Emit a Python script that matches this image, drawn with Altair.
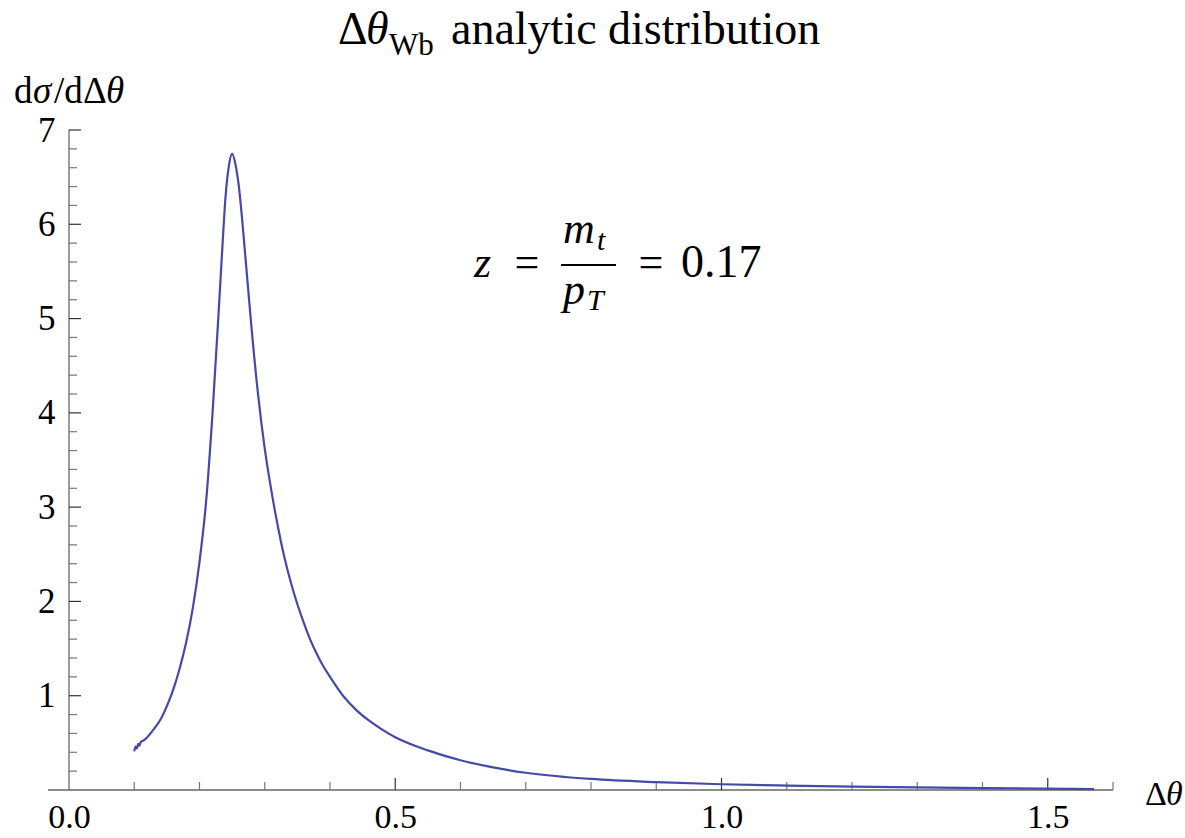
import altair as alt
import pandas as pd

# ---- data ----
x_vals = [0.100, 0.102, 0.104, 0.106, 0.108, 0.110, 0.115, 0.120, 0.130, 0.140,
          0.150, 0.160, 0.170, 0.180, 0.190, 0.200, 0.210, 0.220, 0.230, 0.235,
          0.240, 0.245, 0.250, 0.255, 0.260, 0.265, 0.270, 0.280, 0.290, 0.300,
          0.310, 0.320, 0.330, 0.340, 0.350, 0.360, 0.370, 0.380, 0.390, 0.400,
          0.420, 0.440, 0.460, 0.480, 0.500, 0.550, 0.600, 0.650, 0.700, 0.800,
          0.900, 1.000, 1.100, 1.200, 1.300, 1.400, 1.500, 1.571]
y_vals = [0.41, 0.46, 0.44, 0.49, 0.47, 0.51, 0.53, 0.56, 0.645, 0.745,
          0.89, 1.07, 1.30, 1.58, 1.94, 2.42, 3.05, 4.00, 5.15, 5.75,
          6.30, 6.62, 6.75, 6.64, 6.42, 6.08, 5.68, 4.88, 4.18, 3.62,
          3.18, 2.80, 2.47, 2.20, 1.97, 1.77, 1.59, 1.44, 1.31, 1.20,
          1.00, 0.85, 0.735, 0.64, 0.56, 0.42, 0.315, 0.24, 0.183, 0.117,
          0.083, 0.061, 0.047, 0.036, 0.027, 0.020, 0.014, 0.010]

x_tick_labels = [0.0, 0.5, 1.0, 1.5]
y_tick_labels = [1, 2, 3, 4, 5, 6, 7]
x_major = [0.5, 1.0, 1.5]
x_minor = [0.1, 0.2, 0.3, 0.4, 0.6, 0.7, 0.8, 0.9, 1.1, 1.2, 1.3, 1.4, 1.6]
y_major = [1, 2, 3, 4, 5, 6, 7]
y_minor = [0.2, 0.4, 0.6, 0.8, 1.2, 1.4, 1.6, 1.8, 2.2, 2.4, 2.6, 2.8,
           3.2, 3.4, 3.6, 3.8, 4.2, 4.4, 4.6, 4.8, 5.2, 5.4, 5.6, 5.8,
           6.2, 6.4, 6.6, 6.8]

W, H = 1044, 660
SERIF = "'Liberation Serif', 'Times New Roman', serif"
AXIS_COLOR = "#666666"
xs = alt.Scale(domain=[0, 1.6], nice=False, zero=False)
ys = alt.Scale(domain=[0, 7], nice=False, zero=False)

x_axis = alt.Axis(
    values=x_tick_labels, format=".1f", title=None, grid=False, domain=False,
    ticks=False, labelFont=SERIF, labelFontSize=34, labelColor="black",
    labelPadding=10, labelFlush=False, labelOverlap=False)
y_axis = alt.Axis(
    values=y_tick_labels, format="d", title=None, grid=False, domain=False,
    ticks=False, labelFont=SERIF, labelFontSize=35, labelColor="black",
    labelPadding=14, labelFlush=False, labelOverlap=False)

curve = alt.Chart(pd.DataFrame({"x": x_vals, "y": y_vals})).mark_line(
    color="#4549a8", strokeWidth=2.2, interpolate="monotone"
).encode(
    x=alt.X("x:Q", scale=xs, axis=x_axis),
    y=alt.Y("y:Q", scale=ys, axis=y_axis),
)

# axis lines
x_axis_line = alt.Chart(pd.DataFrame({"a": [0]})).mark_rule(
    color=AXIS_COLOR, strokeWidth=1.3
).encode(x=alt.value(-21), x2=alt.value(W), y=alt.value(H))
y_axis_line = alt.Chart(pd.DataFrame({"a": [0]})).mark_rule(
    color=AXIS_COLOR, strokeWidth=1.3
).encode(x=alt.value(0), y=alt.value(0), y2=alt.value(H))

# ticks (drawn inward)
x_major_ticks = alt.Chart(pd.DataFrame({"x": x_major})).mark_rule(
    color="#333333", strokeWidth=1.2
).encode(x=alt.X("x:Q", scale=xs, axis=x_axis), y=alt.value(H), y2=alt.value(H - 12))
x_minor_ticks = alt.Chart(pd.DataFrame({"x": x_minor})).mark_rule(
    color="#777777", strokeWidth=1.2
).encode(x=alt.X("x:Q", scale=xs, axis=x_axis), y=alt.value(H), y2=alt.value(H - 8))
y_major_ticks = alt.Chart(pd.DataFrame({"y": y_major})).mark_rule(
    color="#333333", strokeWidth=1.2
).encode(y=alt.Y("y:Q", scale=ys, axis=y_axis), x=alt.value(0), x2=alt.value(12))
y_minor_ticks = alt.Chart(pd.DataFrame({"y": y_minor})).mark_rule(
    color="#777777", strokeWidth=1.2
).encode(y=alt.Y("y:Q", scale=ys, axis=y_axis), x=alt.value(0), x2=alt.value(8))


def txt(s, x, y, size, italic=False, align="left"):
    return alt.Chart(pd.DataFrame({"a": [0]})).mark_text(
        text=s, font=SERIF, fontSize=size,
        fontStyle="italic" if italic else "normal",
        align=align, baseline="alphabetic", color="black"
    ).encode(x=alt.value(x), y=alt.value(y))


# title: Δθ_Wb analytic distribution
title_parts = [
    txt("Δ", 269, -86, 46),
    txt("θ", 297, -86, 46, italic=True),
    txt("Wb", 320, -75, 31),
    txt("analytic distribution", 382, -86, 46),
]

# y-axis label dσ/dΔθ
ylab = [
    txt("d", -55, -27, 37),
    txt("σ", -36, -27, 37, italic=True),
    txt("/d", -15, -27, 37),
    txt("Δ", 14, -27, 37),
    txt("θ", 37, -27, 37, italic=True),
]

# x-axis label Δθ
xlab = [
    txt("Δ", 1076, 675, 34),
    txt("θ", 1097, 675, 34, italic=True),
]

# annotation z = m_t / p_T = 0.17
frac_bar = alt.Chart(pd.DataFrame({"a": [0]})).mark_rule(
    color="black", strokeWidth=1.8
).encode(x=alt.value(492), x2=alt.value(547), y=alt.value(135))
annot = [
    txt("z", 405, 147, 44, italic=True),
    txt("=", 458, 147, 44, align="center"),
    txt("m", 494, 113, 44, italic=True),
    txt("t", 528, 120, 30, italic=True),
    txt("p", 494, 174, 44, italic=True),
    txt("T", 518, 180, 30, italic=True),
    txt("=", 582, 147, 44, align="center"),
    txt("0.17", 612, 147, 46),
]

chart = alt.layer(
    x_axis_line, y_axis_line, x_minor_ticks, x_major_ticks,
    y_minor_ticks, y_major_ticks, curve, frac_bar,
    *title_parts, *ylab, *xlab, *annot
).properties(
    width=W, height=H,
    padding={"left": 69, "top": 130, "right": 72, "bottom": 48},
    autosize=alt.AutoSizeParams(type="none"),
    background="white",
).configure_view(stroke=None)

chart.save("out.html", embed_options={"renderer": "svg", "actions": False})
